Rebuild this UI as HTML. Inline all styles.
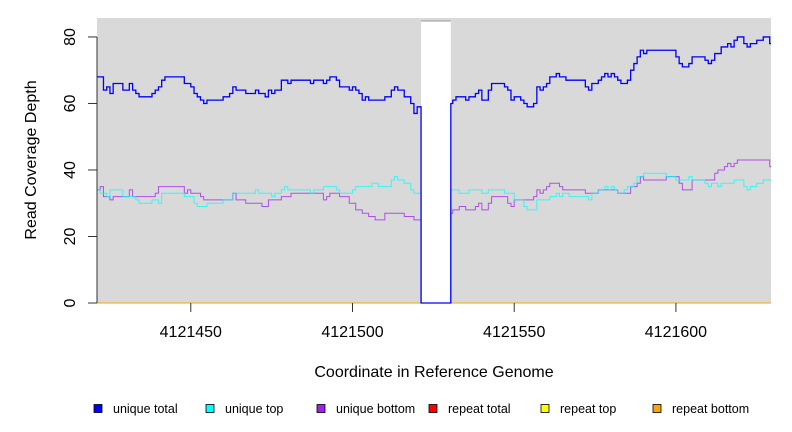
<!DOCTYPE html>
<html><head><meta charset="utf-8"><style>
html,body{margin:0;padding:0;background:#fff;}
svg{display:block;font-family:"Liberation Sans",Arial,sans-serif;}
</style></head><body>
<svg id="chart" width="792" height="432" viewBox="0 0 792 432">
<rect x="97" y="18" width="674" height="285" fill="#d9d9d9"/>
<g id="gap"></g>
<g id="lines"></g>
<g id="axes"></g>
<text x="434" y="377" font-size="16" text-anchor="middle" fill="#000">Coordinate in Reference Genome</text>
<text transform="translate(36,160) rotate(-90)" font-size="16" text-anchor="middle" fill="#000">Read Coverage Depth</text>
<g id="legend"></g>
</svg>
<script>
const xStart = 4121421;
const xEnd = 4121629.4;
const yMax = 85.7;
const xTicks = [4121450, 4121500, 4121550, 4121600];
const yTicks = [0, 20, 40, 60, 80];
const gapRange = [100.2, 109.4];
const totalPos = [0,2,3,4,5,8,10,11,12,13,17,18,19,20,21,27,29,30,31,32,33,34,39,41,42,43,46,49,50,52,53,54,55,57,59,60,66,67,70,71,72,74,75,78,79,80,81,82,83,84,89,91,92,93,95,97,98,99,100.2,109.4,110,111,114,115,117,118,119,121,122,126,127,128,129,131,132,133,135,136,137,138,139,140,142,143,145,151,152,153,155,156,157,158,159,160,161,162,164,165,166,167,168,169,170,179,180,181,183,184,188,189,190,191,193,195,196,197,198,200,201,202,204,206,208];
const totalVal = [68,64,65,63,66,64,66,64,63,62,63,64,65,67,68,66,65,63,62,61,60,61,62,63,65,64,63,64,63,62,64,63,64,67,66,67,66,67,66,67,68,67,65,64,65,64,63,61,62,61,62,64,65,64,62,60,57,59,0,60,61,62,61,62,63,64,61,64,66,65,64,61,62,61,60,59,60,65,64,65,66,68,69,68,67,65,64,66,67,68,69,68,69,68,67,66,67,70,72,74,76,75,76,74,72,71,72,74,73,72,73,75,77,78,77,79,80,78,77,78,79,80,78];
const topPos = [0,1,3,4,8,12,13,17,19,20,27,30,31,34,39,42,49,50,52,54,55,57,58,59,66,67,70,74,75,79,80,85,87,91,92,93,95,97,98,100.2,109.4,112,115,119,121,126,129,132,133,136,140,142,143,144,146,152,153,155,157,158,159,160,161,163,164,166,167,169,176,179,183,184,188,189,190,192,193,197,200,201,202,204,206];
const topVal = [34,33,32,34,32,31,30,31,30,33,32,30,29,30,31,33,34,33,33,32,33,34,35,34,33,34,35,34,33,34,35,36,35,37,38,37,36,34,33,0,34,33,34,33,34,33,31,29,28,31,32,33,32,33,32,31,33,34,35,34,35,34,33,34,35,36,38,39,38,37,38,37,36,35,36,35,36,37,35,34,35,36,37];
const bottomPos = [0,1,2,4,5,10,11,18,19,27,28,29,32,33,42,43,46,51,53,57,60,70,71,72,75,78,80,82,84,86,89,95,98,100.2,109.4,110,112,114,117,118,119,121,122,127,128,129,135,136,137,138,139,140,143,144,151,155,161,165,167,168,169,176,180,181,184,191,192,194,195,196,197,198,208];
const bottomVal = [34,35,32,31,32,34,32,33,35,33,34,33,32,31,33,31,30,29,31,32,33,31,32,33,32,30,28,27,26,25,27,26,25,0,27,28,29,28,29,30,28,30,32,30,29,31,32,34,33,34,35,36,35,34,33,34,33,35,36,38,37,38,36,34,37,39,40,41,42,41,42,43,41];
const seriesNames = ["unique total","unique top","unique bottom","repeat total","repeat top","repeat bottom"];
const seriesColors = ["#0000ff","#00ffff","#a020f0","#ff0000","#ffff00","#ffa500"];

const NS = "http://www.w3.org/2000/svg";
const L = 97, R = 771, T = 18, B = 303;
function xs(v){ return L + (v - xStart) / (xEnd - xStart) * (R - L); }
function ys(v){ return B - v / yMax * (B - T); }
function mk(tag, attrs, parent){ const e = document.createElementNS(NS, tag); for (const k in attrs) e.setAttribute(k, attrs[k]); parent.appendChild(e); return e; }

const gapG = document.getElementById('gap');
const gr = mk('rect', {x: xs(xStart+gapRange[0]), y: T+3, width: xs(xStart+gapRange[1]) - xs(xStart+gapRange[0]), height: B-T-3, fill: '#fff'}, gapG);


const gl = mk('line', {x1: xs(xStart+gapRange[0]), x2: xs(xStart+gapRange[1]), y1: T+3, y2: T+3, stroke: '#999', 'stroke-width': 1}, gapG);



const linesG = document.getElementById('lines');
function stepPath(pos, val){
  let d = '';
  for (let i = 0; i < pos.length; i++){
    const x0 = xs(xStart + pos[i]);
    const x1 = xs(i + 1 < pos.length ? xStart + pos[i+1] : xEnd);
    const y = ys(val[i]);
    d += (i === 0 ? 'M' : 'L') + x0.toFixed(2) + ',' + y.toFixed(2) + 'L' + x1.toFixed(2) + ',' + y.toFixed(2);
  }
  return d;
}
const zeroPath = 'M' + xs(xStart) + ',' + ys(0) + 'L' + xs(xEnd) + ',' + ys(0);
const p3 = mk('path', {d: zeroPath, fill: 'none', stroke: seriesColors[3], 'stroke-width': 1}, linesG);


const p4 = mk('path', {d: zeroPath, fill: 'none', stroke: seriesColors[4], 'stroke-width': 1}, linesG);


const p5 = mk('path', {d: zeroPath, fill: 'none', stroke: seriesColors[5], 'stroke-width': 1}, linesG);


const p2 = mk('path', {d: stepPath(bottomPos, bottomVal), fill: 'none', stroke: seriesColors[2], 'stroke-width': 1, opacity: 0.75}, linesG);


const p1 = mk('path', {d: stepPath(topPos, topVal), fill: 'none', stroke: seriesColors[1], 'stroke-width': 1, opacity: 0.75}, linesG);


const p0 = mk('path', {d: stepPath(totalPos, totalVal), fill: 'none', stroke: seriesColors[0], 'stroke-width': 1.3}, linesG);



const axG = document.getElementById('axes');
const yl = mk('line', {x1: L, x2: L, y1: ys(yTicks[yTicks.length-1]), y2: ys(0), stroke: '#333'}, axG);


yTicks.forEach(v => {
  const t = mk('line', {x1: L-9, x2: L, y1: ys(v), y2: ys(v), stroke: '#333'}, axG);
  
  
  const tx = mk('text', {transform: 'translate(75,' + ys(v) + ') rotate(-90)', 'font-size': 16, 'text-anchor': 'middle', fill: '#000'}, axG);
  tx.textContent = v;
  
  
});
xTicks.forEach(v => {
  const t = mk('line', {x1: xs(v), x2: xs(v), y1: B, y2: B+9, stroke: '#333'}, axG);
  
  
  const tx = mk('text', {x: xs(v), y: 337, 'font-size': 16, 'text-anchor': 'middle', fill: '#000'}, axG);
  tx.textContent = v;
  
  
});

const legG = document.getElementById('legend');
const legX = [94, 206, 317, 429, 541, 653];
seriesNames.forEach((n, i) => {
  const g = mk('g', {}, legG);
  
  
  mk('rect', {x: legX[i], y: 404.5, width: 8, height: 8, fill: seriesColors[i], stroke: '#000', 'stroke-width': 0.8}, g);
  const t = mk('text', {x: legX[i] + 19, y: 413, 'font-size': 12.5, fill: '#000'}, g);
  t.textContent = n;
});
</script>
</body></html>
